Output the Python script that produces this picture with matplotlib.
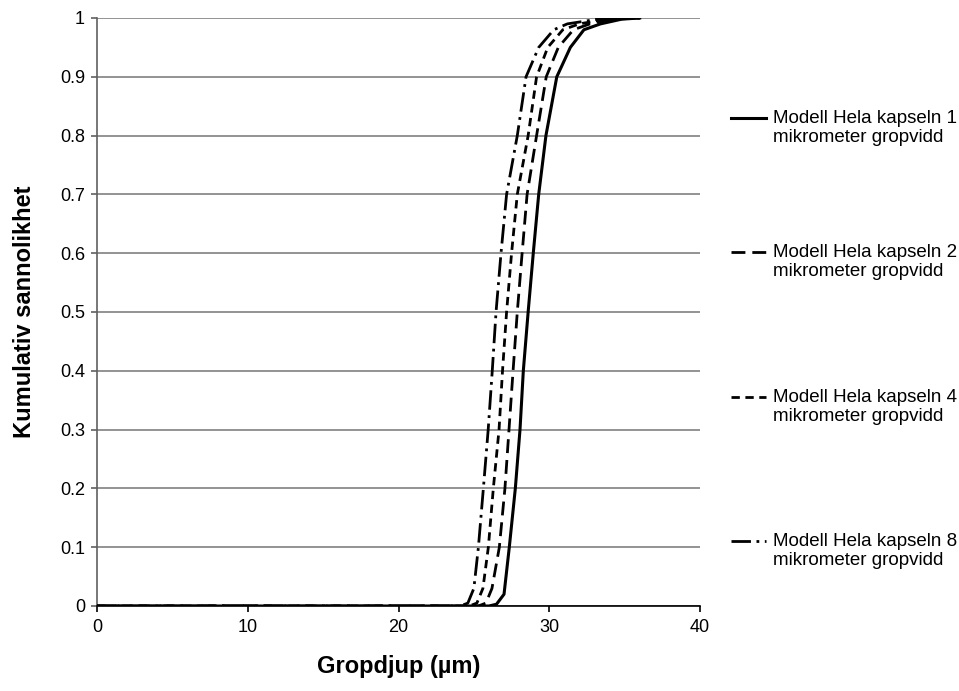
import matplotlib
matplotlib.use("Agg")
import matplotlib.pyplot as plt
from matplotlib.lines import Line2D

plt.rcParams['font.family'] = ['Liberation Sans', 'DejaVu Sans']

# Data (gropdjup in µm vs cumulative probability)
x_w1 = [0, 26.0, 26.5, 27.0, 27.35, 27.75, 28.06, 28.28, 28.6, 28.94, 29.3, 29.78, 30.5, 31.4, 32.3, 33.4, 34.8, 36.0]
y_w1 = [0, 0.0, 0.003, 0.02, 0.1, 0.2, 0.3, 0.4, 0.5, 0.6, 0.7, 0.8, 0.9, 0.95, 0.98, 0.99, 0.998, 1.0]

x_w2 = [0, 25.3, 25.8, 26.2, 26.69, 27.06, 27.33, 27.6, 27.88, 28.2, 28.53, 29.16, 29.8, 30.6, 31.6, 32.7, 34.3, 36.0]
y_w2 = [0, 0.0, 0.005, 0.03, 0.1, 0.2, 0.3, 0.4, 0.5, 0.6, 0.7, 0.8, 0.9, 0.95, 0.98, 0.99, 0.998, 1.0]

x_w4 = [0, 24.7, 25.2, 25.6, 25.96, 26.29, 26.67, 26.9, 27.17, 27.5, 27.88, 28.6, 29.16, 29.9, 30.9, 32.0, 33.8, 36.0]
y_w4 = [0, 0.0, 0.005, 0.03, 0.1, 0.2, 0.3, 0.4, 0.5, 0.6, 0.7, 0.8, 0.9, 0.95, 0.98, 0.99, 0.998, 1.0]

x_w8 = [0, 24.1, 24.6, 25.0, 25.3, 25.63, 25.95, 26.22, 26.47, 26.8, 27.17, 27.88, 28.46, 29.3, 30.3, 31.2, 33.2, 36.0]
y_w8 = [0, 0.0, 0.005, 0.03, 0.1, 0.2, 0.3, 0.4, 0.5, 0.6, 0.7, 0.8, 0.9, 0.95, 0.98, 0.99, 0.998, 1.0]

labels = [
    "Modell Hela kapseln 1\nmikrometer gropvidd",
    "Modell Hela kapseln 2\nmikrometer gropvidd",
    "Modell Hela kapseln 4\nmikrometer gropvidd",
    "Modell Hela kapseln 8\nmikrometer gropvidd",
]
x_ticks = [0, 10, 20, 30, 40]
y_ticks = [0, 0.1, 0.2, 0.3, 0.4, 0.5, 0.6, 0.7, 0.8, 0.9, 1.0]
y_ticklabels = ["0", "0.1", "0.2", "0.3", "0.4", "0.5", "0.6", "0.7", "0.8", "0.9", "1"]

W, H = 959, 691
fig = plt.figure(figsize=(W / 100, H / 100), dpi=100)
ax = fig.add_axes([97 / W, 1 - 606 / H, (700 - 97) / W, (606 - 18) / H])

styles = [
    dict(linestyle='-', linewidth=2.2),
    dict(linestyle=(0, (5, 2.5)), linewidth=2.0),
    dict(linestyle=(0, (3, 2)), linewidth=2.0),
    dict(linestyle=(0, (7, 2, 1, 2)), linewidth=2.0),
]
series = [(x_w1, y_w1), (x_w2, y_w2), (x_w4, y_w4), (x_w8, y_w8)]
for (xs, ys), st in zip(series, styles):
    ax.plot(xs, ys, color='black', zorder=3, **st)

ax.set_xlim(0, 40)
ax.set_ylim(0, 1)
ax.set_xticks(x_ticks)
ax.set_yticks(y_ticks)
ax.set_yticklabels(y_ticklabels)
ax.yaxis.grid(True, color='#808080', linewidth=1.2)
ax.set_axisbelow(True)
for s in ['top', 'right']:
    ax.spines[s].set_visible(False)
ax.spines['left'].set_color('#606060')
ax.spines['left'].set_linewidth(1.2)
ax.spines['bottom'].set_color('black')
ax.spines['bottom'].set_linewidth(1.2)
ax.tick_params(axis='y', direction='out', length=4.3, width=1.2, color='#606060',
               labelsize=13, pad=4.3)
ax.tick_params(axis='x', direction='out', length=4.3, width=1.2, color='black',
               labelsize=13, pad=5)

ax.set_xlabel("Gropdjup (µm)", fontsize=17, fontweight='bold', labelpad=14)
ax.set_ylabel("Kumulativ sannolikhet", fontsize=17, fontweight='bold', labelpad=17)

# Legend entries placed manually at the right
entry_y = [118, 252, 397, 541]
for lab, st, yp in zip(labels, styles, entry_y):
    yf = 1 - yp / H
    fig.add_artist(Line2D([731 / W, 766 / W], [yf, yf], color='black',
                          transform=fig.transFigure, **st))
    fig.text(773 / W, 1 - (yp + 10) / H, lab, fontsize=13.5, va='center', ha='left',
             linespacing=1.14)

fig.savefig("out.png", dpi=100)
